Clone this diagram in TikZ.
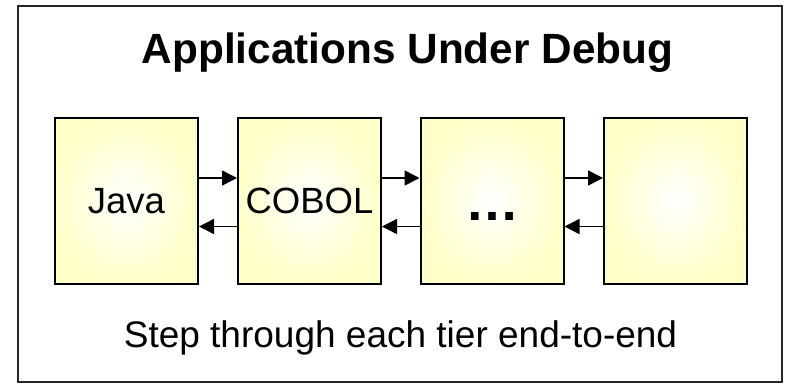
\documentclass[tikz,border=0pt]{standalone}
\usepackage{fontspec}
\setmainfont{Liberation Sans}
\usetikzlibrary{arrows.meta}
\definecolor{paleyellow}{RGB}{255,255,200}
\begin{document}
\begin{tikzpicture}[x=1pt,y=-1pt,
  tier/.style={draw=black, line width=2pt, minimum width=143pt, minimum height=166pt,
    inner sep=0pt, shading=radial, inner color=white, outer color=paleyellow,
    font=\fontsize{36.5}{40}\selectfont},
  arr/.style={line width=1.5pt, -{Triangle[length=15pt,width=15pt]}},
  frame/.style={draw=black!85, line width=1.8pt}
]
\useasboundingbox (0,0) rectangle (786,384);
\draw[frame] (18,6) rectangle (782,382);
\node[anchor=base, font=\bfseries\fontsize{42.3}{48}\selectfont] (title) at (407.5,63) {Applications Under Debug};
\node[tier] (java) at (126.5,201) {Java};
\node[tier] (cobol) at (309.5,201) {COBOL};
\node[tier] (more) at (492,201) {\raisebox{-19pt}[0pt][0pt]{\bfseries\fontsize{54}{60}\selectfont …}};
\node[tier] (last) at (675.5,201) {};
\foreach \a/\b in {java/cobol, cobol/more, more/last}{
  \draw[arr] ([yshift=23pt]\a.east) -- ([yshift=23pt]\b.west);
  \draw[arr] ([yshift=-25.5pt]\b.west) -- ([yshift=-25.5pt]\a.east);
}
\node[anchor=base, font=\fontsize{37}{42}\selectfont] (caption) at (400.5,347) {Step through each tier end-to-end};
\end{tikzpicture}
\end{document}
